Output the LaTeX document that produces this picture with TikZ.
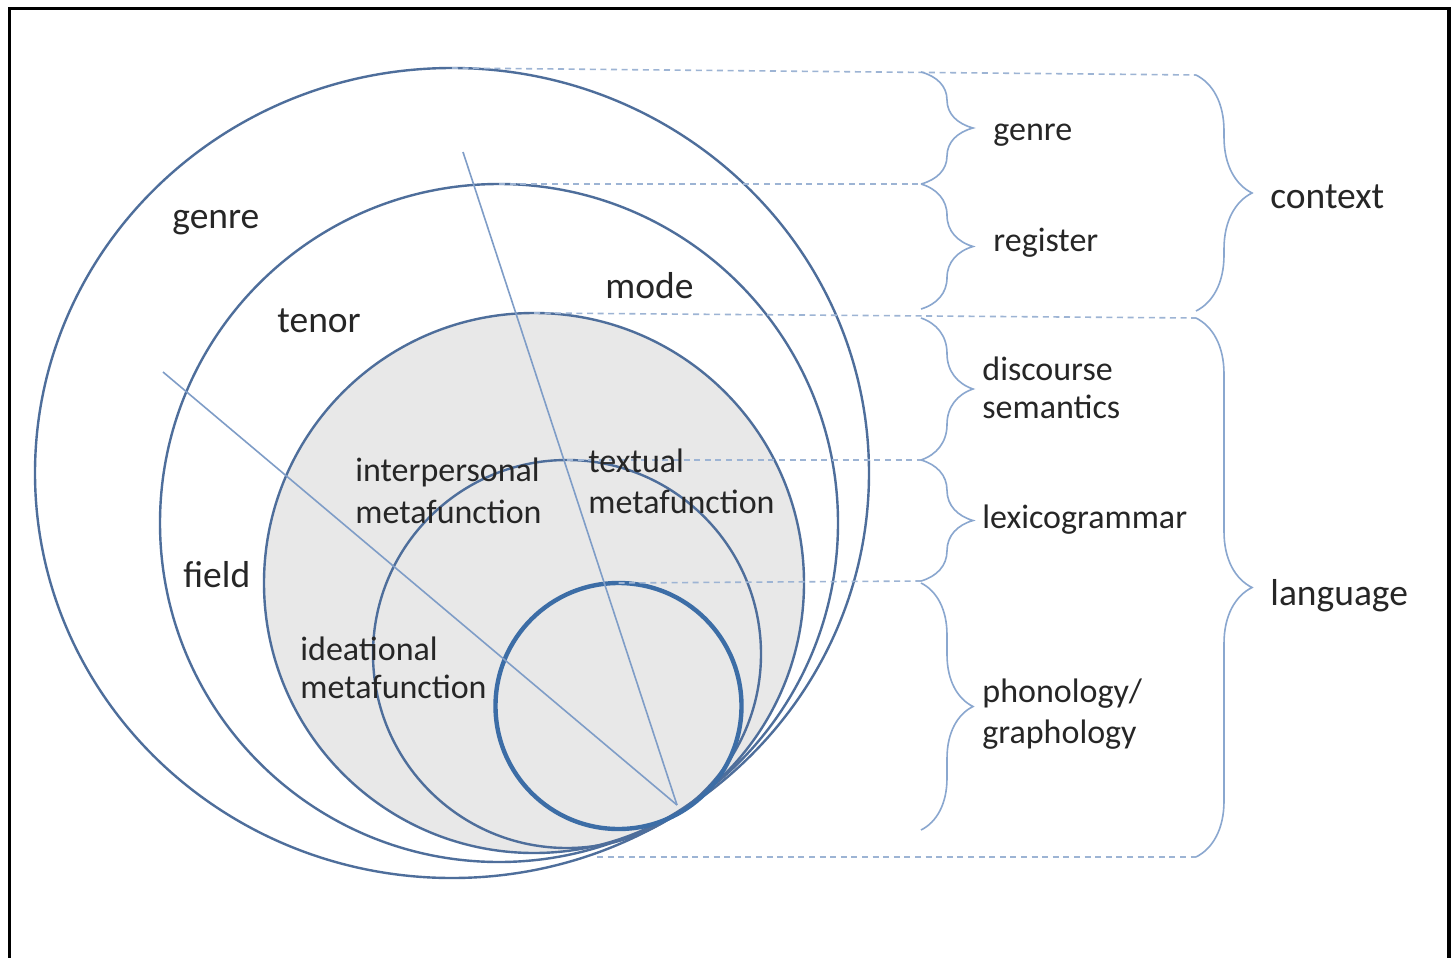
\documentclass[tikz,border=0pt]{standalone}
\usepackage{fontspec}
\setmainfont{Carlito}
\usetikzlibrary{decorations.pathreplacing,shapes.geometric}
\definecolor{ringblue}{HTML}{4E6E9B}
\definecolor{coreblue}{HTML}{3C6DA6}
\definecolor{spokeblue}{HTML}{7F9DC7}
\definecolor{guideblue}{HTML}{9DB4D4}
\definecolor{braceblue}{HTML}{8AA7CF}
\definecolor{discgrey}{HTML}{E8E8E8}
\definecolor{ink}{HTML}{262626}
\begin{document}
\begin{tikzpicture}[x=0.5pt,y=-0.5pt,
  ring/.style={draw=ringblue,line width=1.2pt,inner sep=0pt,outer sep=0pt},
  corering/.style={draw=coreblue,line width=2.2pt,circle,inner sep=0pt,outer sep=0pt},
  spokeline/.style={draw=spokeblue,line width=0.8pt},
  guideline/.style={draw=guideblue,line width=0.8pt,dash pattern=on 3pt off 2.3pt},
  smallbrace/.style={draw=braceblue,line width=0.8pt,decorate,decoration={brace,amplitude=26pt}},
  bigbrace/.style={draw=braceblue,line width=0.8pt,decorate,decoration={brace,amplitude=28pt}},
  biglabel/.style={anchor=base west,inner sep=0pt,text=ink,font=\fontsize{18.75}{22}\selectfont},
  smalllabel/.style={anchor=base west,inner sep=0pt,text=ink,font=\fontsize{17}{20}\selectfont}
]
\useasboundingbox (0,0) rectangle (1456,958);
\fill[white] (0,0) rectangle (1456,958);
\clip (0,0) rectangle (1456,958);

% nested strata, all touching at the lower right
\node[ring,ellipse,fill=white,minimum width=417pt,minimum height=405pt] (genreC) at (452,473) {};
\node[ring,circle,fill=white,minimum size=339pt] (registerC) at (499,523) {};
\node[ring,circle,fill=discgrey,minimum size=270pt] (discC) at (534,583) {};
\node[ring,circle,minimum size=194pt] (lexC) at (567,654) {};
\node[corering,minimum size=123pt] (phonC) at (618.5,706) {};

% radial dividers for field / tenor / mode
\coordinate (hub) at (677,805);
\coordinate (spokeA) at (463,152);
\coordinate (spokeB) at (163,372);
\draw[spokeline] (spokeA) -- (hub);
\draw[spokeline] (spokeB) -- (hub);

% brace end points
\coordinate (gTop) at (921,72);
\coordinate (gBot) at (921,184);
\coordinate (rBot) at (921,309);
\coordinate (dTop) at (921,318);
\coordinate (dBot) at (921,460);
\coordinate (lBot) at (921,581);
\coordinate (pTop) at (921,583);
\coordinate (pBot) at (921,830);
\coordinate (cTop) at (1196,75);
\coordinate (cBot) at (1196,311);
\coordinate (laTop) at (1196,318);
\coordinate (laBot) at (1196,857);
\coordinate (baseStart) at (597,857);

% dashed guides from the strata to the braces
\draw[guideline] (genreC.north) -- (cTop);
\draw[guideline] (registerC.north) -- (gBot);
\draw[guideline] (discC.north) -- (laTop);
\draw[guideline] (lexC.north) -- (dBot);
\draw[guideline] (phonC.north) -- (lBot);
\draw[guideline] (baseStart) -- (laBot);

% braces
\draw[smallbrace] (gTop) -- (gBot);
\draw[smallbrace] (gBot) -- (rBot);
\draw[smallbrace] (dTop) -- (dBot);
\draw[smallbrace] (dBot) -- (lBot);
\draw[smallbrace] (pTop) -- (pBot);
\draw[bigbrace] (cTop) -- (cBot);
\draw[bigbrace] (laTop) -- (laBot);

% labels inside the strata
\node[biglabel] (lgenre) at (172,228) {genre};
\node[biglabel] (ltenor) at (277,332) {tenor};
\node[biglabel] (lmode) at (605,298) {mode};
\node[biglabel] (lfield) at (183,587) {field};
\node[smalllabel] (linterA) at (355,481) {interpersonal};
\node[smalllabel] (linterB) at (355,523) {metafunction};
\node[smalllabel] (ltextA) at (588,472) {textual};
\node[smalllabel] (ltextB) at (588,513) {metafunction};
\node[smalllabel] (lideaA) at (300,660) {ideational};
\node[smalllabel] (lideaB) at (300,698) {metafunction};

% labels on the right
\node[smalllabel] (rgenre) at (993,140) {genre};
\node[smalllabel] (rregister) at (993,251) {register};
\node[smalllabel] (rdiscA) at (982,380) {discourse};
\node[smalllabel] (rdiscB) at (982,418) {semantics};
\node[smalllabel] (rlex) at (982,528) {lexicogrammar};
\node[smalllabel] (rphonA) at (982,702) {phonology/};
\node[smalllabel] (rphonB) at (982,743) {graphology};
\node[biglabel] (rcontext) at (1270,208) {context};
\node[biglabel] (rlanguage) at (1270,605) {language};

% outer frame
\draw[black,line width=1.6pt] (9.5,8.5) rectangle (1449,1000);
\end{tikzpicture}
\end{document}
